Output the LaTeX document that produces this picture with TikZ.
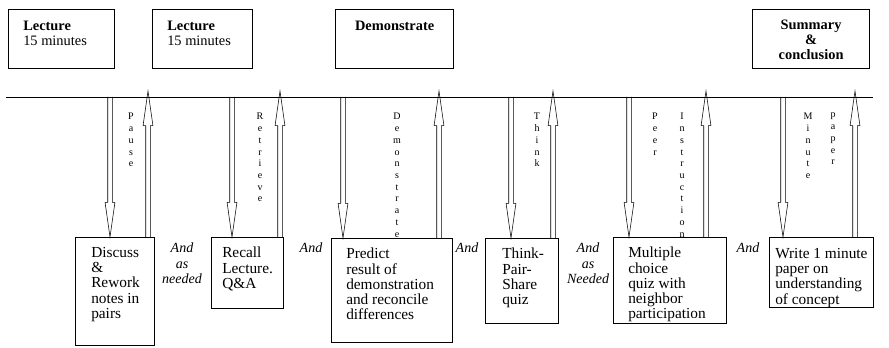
\documentclass[tikz,border=0pt]{standalone}
\usepackage{fontspec}
\setmainfont{Liberation Serif}
\usetikzlibrary{calc}

\newcommand{\topfont}{\fontsize{10.8}{11.25}\selectfont}
\newcommand{\boxfont}{\fontsize{11.5}{11.4}\selectfont}
\newcommand{\andfont}{\fontsize{10.5}{11.6}\selectfont}
\newcommand{\tinyfont}{\fontsize{7.5}{8.8}\selectfont}

\tikzset{
  box/.style={draw, line width=0.9pt, inner sep=0pt, anchor=north west},
  toptxt/.style={inner sep=0pt, align=left, anchor=north west, font=\topfont},
  ctxt/.style={inner sep=0pt, align=center, anchor=north, font=\topfont\bfseries},
  txt/.style={inner sep=0pt, align=left, anchor=north west, font=\boxfont},
  vlab/.style={inner sep=0pt, align=center, anchor=north, font=\tinyfont},
  andlab/.style={inner sep=0pt, align=center, anchor=north, font=\andfont\itshape},
  hollow/.style={line width=0.9pt, to path={
    let \p1=(\tikztostart), \p2=(\tikztotarget), \n1={sign(\y2-\y1)} in
    (\x1-1.7pt,\y1) -- (\x1-1.7pt,\y2-\n1*26pt) -- (\x1-3.7pt,\y2-\n1*26pt)
    -- (\x2,\y2) -- (\x1+3.7pt,\y2-\n1*26pt) -- (\x1+1.7pt,\y2-\n1*26pt)
    -- (\x1+1.7pt,\y1)}}
}

\begin{document}
\begin{tikzpicture}[x=0.75pt, y=-0.75pt]
  \useasboundingbox (0,0) rectangle (889,348);

  % top row
  \node[box, minimum width=79.5pt, minimum height=44.25pt] (lec1) at (8,9) {};
  \node[box, minimum width=75pt, minimum height=44.25pt] (lec2) at (152,9) {};
  \node[box, minimum width=88.5pt, minimum height=44.25pt] (demo) at (335,9) {};
  \node[box, minimum width=87.75pt, minimum height=44.25pt] (summ) at (752,9) {};
  \node[toptxt] (lec1txt) at ([shift={(15,12)}]lec1.north west) {\textbf{Lecture}\\15 minutes};
  \node[toptxt] (lec2txt) at ([shift={(15,12)}]lec2.north west) {\textbf{Lecture}\\15 minutes};
  \node[ctxt] (demotxt) at ([shift={(0,12)}]demo.north) {Demonstrate};
  \node[ctxt] (summtxt) at ([shift={(0,11)}]summ.north) {Summary\\\&\\conclusion};

  % time line
  \coordinate (tl) at (6,97);
  \coordinate (tr) at (873,97);
  \draw[line width=0.7pt] (tl) -- (tr);

  % activity boxes
  \node[box, minimum width=59.25pt, minimum height=81pt] (disc) at (75,237) {};
  \node[box, minimum width=54pt, minimum height=53.25pt] (recall) at (211,237) {};
  \node[box, minimum width=90.75pt, minimum height=78pt] (pred) at (331,238) {};
  \node[box, minimum width=54.75pt, minimum height=63.75pt] (think) at (485,238) {};
  \node[box, minimum width=84.75pt, minimum height=64.5pt] (multi) at (613,237) {};
  \node[box, minimum width=78pt, minimum height=52.5pt] (write) at (769,237) {};

  \node[txt] (disctxt) at ([shift={(16,10)}]disc.north west) {Discuss\\\&\\Rework\\notes in\\pairs};
  \node[txt] (recalltxt) at ([shift={(11,10)}]recall.north west) {Recall\\Lecture.\\Q\&A};
  \node[txt] (predtxt) at ([shift={(15,10)}]pred.north west) {Predict\\result of\\demonstration\\and reconcile\\differences};
  \node[txt] (thinktxt) at ([shift={(17,10)}]think.north west) {Think-\\Pair-\\Share\\quiz};
  \node[txt] (multitxt) at ([shift={(15,10)}]multi.north west) {Multiple\\choice\\quiz with\\neighbor\\participation};
  \node[txt] (writetxt) at ([shift={(6,11)}]write.north west) {Write 1 minute\\paper on\\understanding\\of concept};

  % arrows down from the time line
  \coordinate (d1) at (110,97);
  \coordinate (d2) at (232,97);
  \coordinate (d3) at (343,97);
  \coordinate (d4) at (511,97);
  \coordinate (d5) at (629,97);
  \coordinate (d6) at (783,97);
  \draw (d1) to[hollow] (d1 |- disc.north);
  \draw (d2) to[hollow] (d2 |- recall.north);
  \draw (d3) to[hollow] (d3 |- pred.north);
  \draw (d4) to[hollow] (d4 |- think.north);
  \draw (d5) to[hollow] (d5 |- multi.north);
  \draw (d6) to[hollow] (d6 |- write.north);

  % arrows back up to the time line
  \coordinate (u1) at (148,91);
  \coordinate (u2) at (280,91);
  \coordinate (u3) at (439,91);
  \coordinate (u4) at (553,91);
  \coordinate (u5) at (706,91);
  \coordinate (u6) at (855,91);
  \draw (u1 |- disc.north) to[hollow] (u1);
  \draw (u2 |- recall.north) to[hollow] (u2);
  \draw (u3 |- pred.north) to[hollow] (u3);
  \draw (u4 |- think.north) to[hollow] (u4);
  \draw (u5 |- multi.north) to[hollow] (u5);
  \draw (u6 |- write.north) to[hollow] (u6);

  % vertical words
  \node[vlab] (pause) at (131,113) {P\\a\\u\\s\\e};
  \node[vlab] (retr) at (260,113) {R\\e\\t\\r\\i\\e\\v\\e};
  \node[vlab] (demv) at (397,113) {D\\e\\m\\o\\n\\s\\t\\r\\a\\t\\e};
  \node[vlab] (thk) at (537,113) {T\\h\\i\\n\\k};
  \node[vlab] (peer) at (655,113) {P\\e\\e\\r};
  \node[vlab] (instr) at (682,113) {I\\n\\s\\t\\r\\u\\c\\t\\i\\o\\n};
  \node[vlab] (minu) at (808,113) {M\\i\\n\\u\\t\\e};
  \node[vlab] (papr) at (833,113) {p\\a\\p\\e\\r};

  % connecting words
  \node[andlab] (and1) at (182,243) {And\\as\\needed};
  \node[andlab] (and2) at (311,243) {And};
  \node[andlab] (and3) at (467,243) {And};
  \node[andlab] (and4) at (588,243) {And\\as\\Needed};
  \node[andlab] (and5) at (748,243) {And};
\end{tikzpicture}
\end{document}
